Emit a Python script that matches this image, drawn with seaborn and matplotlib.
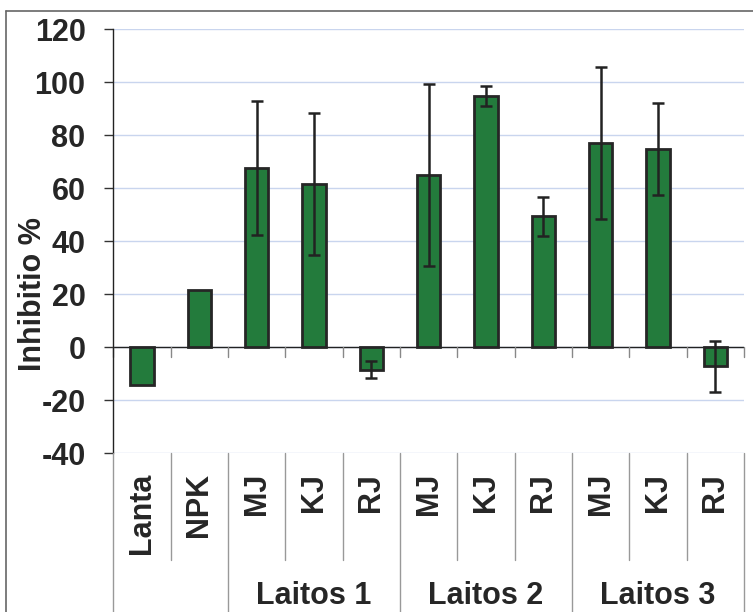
import numpy as np
import pandas as pd
import matplotlib
matplotlib.use("Agg")
import matplotlib.pyplot as plt
import matplotlib.transforms as mtransforms
from matplotlib.lines import Line2D
import seaborn as sns

# Treatment labels, group membership, mean inhibition and error
labels = ["Lanta", "NPK", "MJ", "KJ", "RJ", "MJ", "KJ", "RJ", "MJ", "KJ", "RJ"]
groups = ["", "", "Laitos 1", "Laitos 1", "Laitos 1",
          "Laitos 2", "Laitos 2", "Laitos 2",
          "Laitos 3", "Laitos 3", "Laitos 3"]
values = [-14.5, 21.5, 67.8, 61.7, -8.5, 64.9, 94.8, 49.4, 77.0, 74.8, -7.3]
errors = [np.nan, np.nan, 25.3, 26.8, 3.1, 34.3, 3.7, 7.4, 28.7, 17.4, 9.5]
group_names = ["Laitos 1", "Laitos 2", "Laitos 3"]
y_ticks = [-40, -20, 0, 20, 40, 60, 80, 100, 120]

sns.set_style("white")
plt.rcParams["font.family"] = ["Liberation Sans", "DejaVu Sans"]
plt.rcParams["font.weight"] = "bold"

keys = [f"{g} {l}".strip() for g, l in zip(groups, labels)]
df = pd.DataFrame({"key": keys, "label": labels, "group": groups,
                   "value": values, "err": errors})

fig = plt.figure(figsize=(7.53, 6.12), dpi=100)
ax = fig.add_axes([113.3 / 753, 1 - 453 / 612, (744 - 113.3) / 753, (453 - 29.3) / 612])

green = "#237B3C"
edge = "#262626"
sns.barplot(data=df, x="key", y="value", order=keys, color=green,
            width=0.41, saturation=1, edgecolor=edge, linewidth=2.0,
            errorbar=None, ax=ax, zorder=3)

# error bars only where an error value exists
pos = np.arange(len(keys))
m = ~df["err"].isna().to_numpy()
ax.errorbar(pos[m], df["value"].to_numpy()[m], yerr=df["err"].to_numpy()[m],
            fmt="none", ecolor="#222222", elinewidth=1.8, capsize=4.3,
            capthick=1.8, zorder=4)

ax.set_ylim(-40, 120)
ax.set_xlim(-0.5, len(keys) - 0.5)
ax.set_yticks(y_ticks)
ax.set_yticklabels([str(t) for t in y_ticks], fontsize=22, fontweight="bold")
ax.yaxis.grid(True, color="#C9D5EE", linewidth=1.0, zorder=0)
ax.set_axisbelow(True)
ax.tick_params(axis="y", direction="out", length=6.5, width=1.0,
               color="#333333", pad=13.5, left=True)

ax.set_xticks(pos)
ax.set_xticklabels(labels, rotation=90, fontsize=22, fontweight="bold")
ax.tick_params(axis="x", length=0, pad=14.4)
ax.set_xlabel("")
ax.set_ylabel("Inhibitio %", fontsize=22, fontweight="bold")
ax.yaxis.set_label_coords(-0.1035, 0.375)

for s in ["top", "right", "bottom"]:
    ax.spines[s].set_visible(False)
ax.spines["left"].set_color("#222222")
ax.spines["left"].set_linewidth(1.0)

# zero line with small ticks at category boundaries
ax.axhline(0, color="#222222", linewidth=1.0, zorder=2)
bounds = np.arange(len(keys) + 1) - 0.5
for b in bounds:
    ax.plot([b, b], [0, -3.8], color="#888888", linewidth=1.0, zorder=2,
            clip_on=False)

# category axis separators below the plot
tr = mtransforms.blended_transform_factory(ax.transData, fig.transFigure)
y_axis_bottom = 1 - 453 / 612
y_short = 1 - 560 / 612
group_bounds = [-0.5, 1.5, 4.5, 7.5, 10.5]
for b in bounds:
    y_end = 0.0 if b in group_bounds else y_short
    fig.add_artist(Line2D([b, b], [y_axis_bottom, y_end], transform=tr,
                          color="#999999", linewidth=1.0))

# group labels
for gi, g in enumerate(group_names):
    center = (group_bounds[gi + 1] + group_bounds[gi + 2]) / 2
    fig.text(center, 0.5 / 612, g, transform=tr, ha="center", va="bottom",
             fontsize=22, fontweight="bold")

# outer frame
fig.add_artist(Line2D([6.5 / 753, 6.5 / 753], [0, 1 - 11 / 612],
                      transform=fig.transFigure, color="#666666", linewidth=1.2))
fig.add_artist(Line2D([6.5 / 753, 1], [1 - 11 / 612, 1 - 11 / 612],
                      transform=fig.transFigure, color="#666666", linewidth=1.2))

fig.savefig("out.png", dpi=100)
